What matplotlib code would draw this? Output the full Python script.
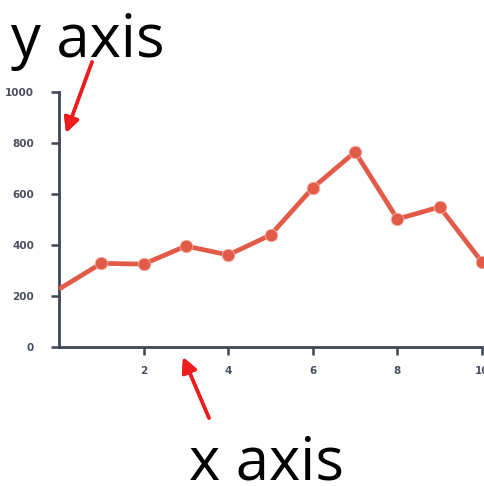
import matplotlib.pyplot as plt

# valeurs
x_vals = [0, 1, 2, 3, 4, 5, 6, 7, 8, 9, 10]
y_vals = [227, 328, 325, 396, 361, 439, 624, 765, 502, 549, 333]
x_ticks = [2, 4, 6, 8, 10]
y_ticks = [0, 200, 400, 600, 800, 1000]

LINE = "#e25a48"
AXIS = "#3f4556"
LABEL = "#4a4f60"

fig = plt.figure(figsize=(4.85, 4.86), dpi=100, facecolor="white")
ax = fig.add_axes([59 / 485, 1 - 347 / 486, (482 - 59) / 485, (347 - 92) / 486])

ax.plot(x_vals, y_vals, color=LINE, linewidth=3.4, marker="o", markersize=9,
        markeredgecolor="#f3b3a8", markeredgewidth=0.6,
        markevery=list(range(1, len(x_vals))), clip_on=False, zorder=3,
        solid_capstyle="butt")

ax.set_xlim(0, 10)
ax.set_ylim(0, 1000)
ax.set_xticks(x_ticks)
ax.set_yticks(y_ticks)
ax.spines[["top", "right"]].set_visible(False)
for s in ["left", "bottom"]:
    ax.spines[s].set_color(AXIS)
    ax.spines[s].set_linewidth(2)
ax.tick_params(axis="both", colors=AXIS, width=1.8, length=6)
ax.tick_params(axis="y", pad=12)
ax.tick_params(axis="x", pad=8)
for lab in ax.get_xticklabels() + ax.get_yticklabels():
    lab.set_fontsize(7.5)
    lab.set_fontweight("bold")
    lab.set_color(LABEL)
    lab.set_family("DejaVu Sans")

# annotations
fig.text(11 / 485, 1 - 57 / 486, "y axis", fontsize=43, family="Open Sans",
         color="black", ha="left", va="baseline")
fig.text(189 / 485, 1 - 479 / 486, "x axis", fontsize=43, family="Open Sans",
         color="black", ha="left", va="baseline")

arrow = dict(arrowstyle="-|>,head_length=0.9,head_width=0.45", color="#ee1c1c",
             linewidth=2.5, shrinkA=0, shrinkB=0)
fig.add_artist(plt.annotate("", xy=(66 / 485, 1 - 133 / 486), xytext=(92 / 485, 1 - 62 / 486),
                            xycoords="figure fraction", textcoords="figure fraction",
                            arrowprops=arrow))
fig.add_artist(plt.annotate("", xy=(183 / 485, 1 - 357 / 486), xytext=(209 / 485, 1 - 418 / 486),
                            xycoords="figure fraction", textcoords="figure fraction",
                            arrowprops=arrow))

plt.savefig("out.png", dpi=100)
